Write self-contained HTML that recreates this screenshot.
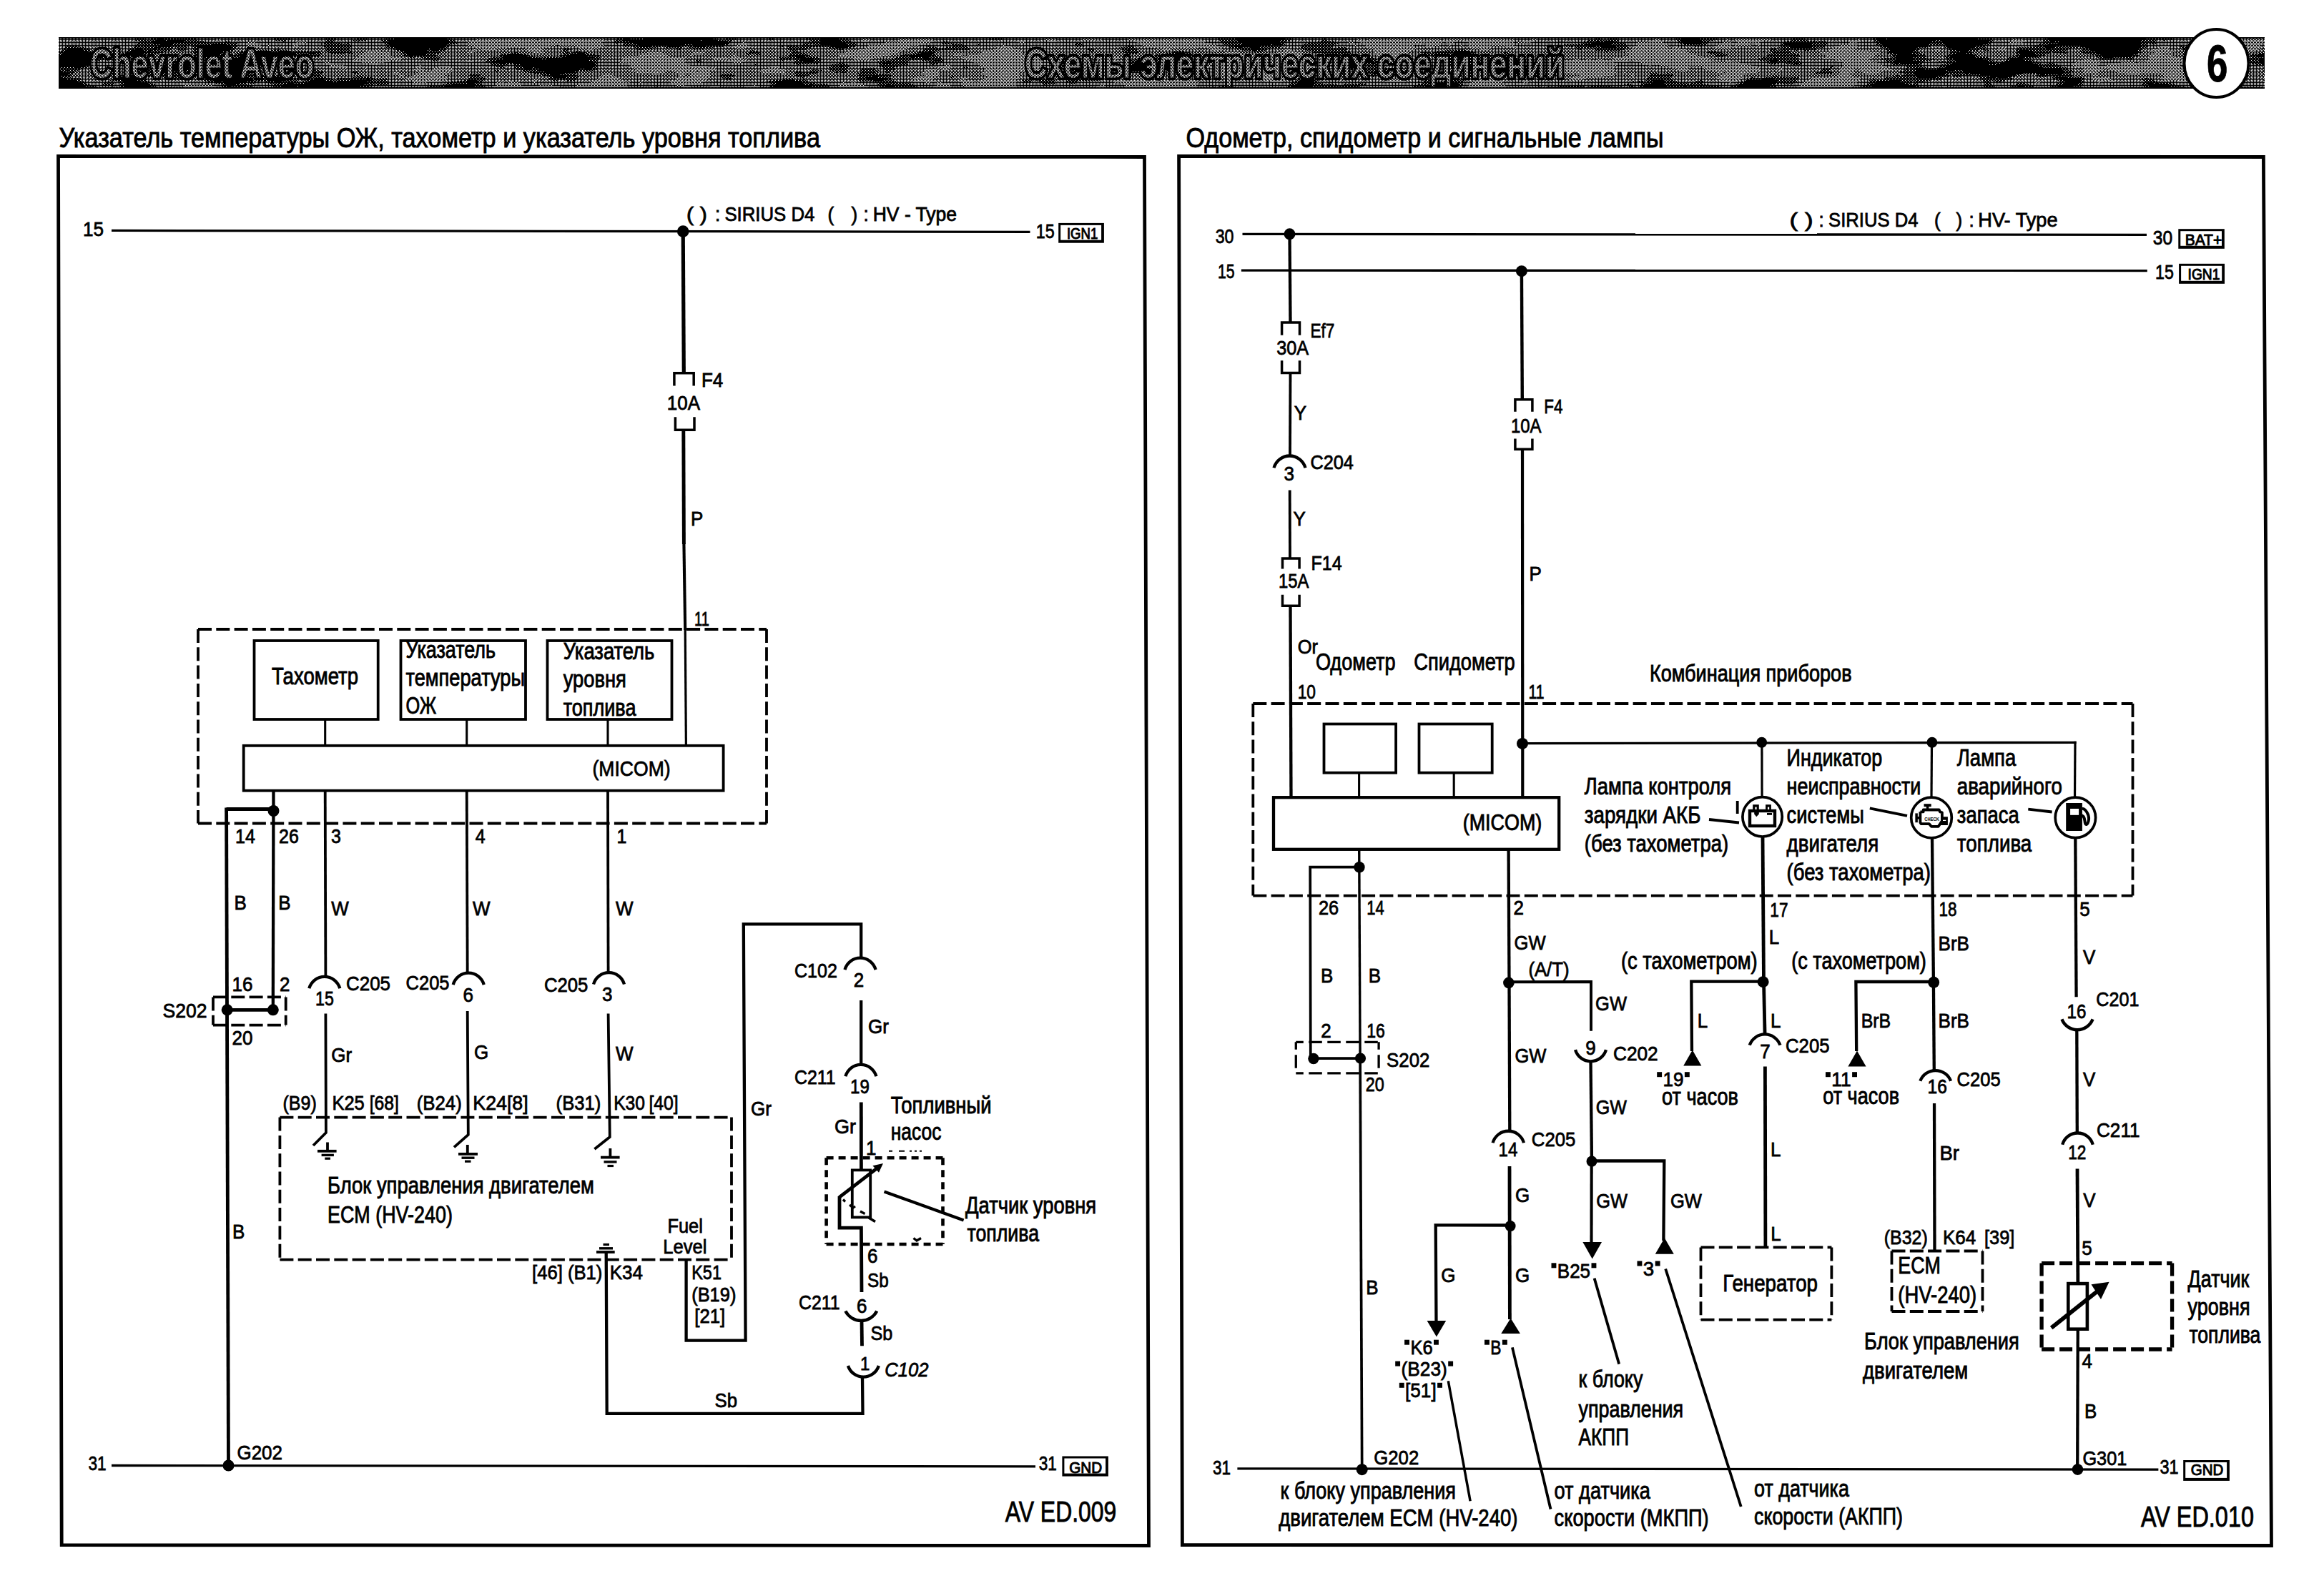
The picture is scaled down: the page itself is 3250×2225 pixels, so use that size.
<!DOCTYPE html>
<html><head><meta charset="utf-8"><title>Chevrolet Aveo - wiring 6</title>
<style>
html,body{margin:0;padding:0;background:#fff;}
body{width:3250px;height:2225px;overflow:hidden;}
svg{display:block;font-family:"Liberation Sans",sans-serif;}
svg text{fill:#000;white-space:pre;}
</style></head><body>
<svg width="3250" height="2225" viewBox="0 0 3250 2225">
<g fill="none" stroke="#000" stroke-linecap="butt">
<defs>
<pattern id="d1" width="4" height="4" patternUnits="userSpaceOnUse"><rect x="0" y="0" width="1" height="1" fill="#fff" stroke="none"/><rect x="2" y="2" width="1" height="1" fill="#fff" stroke="none"/></pattern>
<pattern id="d2" width="4" height="4" patternUnits="userSpaceOnUse"><rect x="0" y="0" width="1" height="1" fill="#fff" stroke="none"/><rect x="2" y="2" width="1" height="1" fill="#fff" stroke="none"/><rect x="2" y="0" width="1" height="1" fill="#fff" stroke="none"/><rect x="0" y="2" width="1" height="1" fill="#fff" stroke="none"/><rect x="1" y="1" width="1" height="1" fill="#fff" stroke="none"/></pattern>
<pattern id="d3" width="4" height="4" patternUnits="userSpaceOnUse"><rect x="0" y="0" width="1" height="1" fill="#fff" stroke="none"/><rect x="2" y="2" width="1" height="1" fill="#fff" stroke="none"/><rect x="2" y="0" width="1" height="1" fill="#fff" stroke="none"/><rect x="0" y="2" width="1" height="1" fill="#fff" stroke="none"/><rect x="1" y="1" width="1" height="1" fill="#fff" stroke="none"/><rect x="3" y="3" width="1" height="1" fill="#fff" stroke="none"/><rect x="3" y="1" width="1" height="1" fill="#fff" stroke="none"/></pattern>
<clipPath id="bandclip"><rect x="82" y="54" width="3085" height="68"/></clipPath>
</defs>
<defs>
<linearGradient id="ramp" x1="0" y1="0" x2="1" y2="0"><stop offset="0" stop-color="#303030"/><stop offset="0.11" stop-color="#3c3c3c"/><stop offset="0.14" stop-color="#808080"/><stop offset="0.80" stop-color="#848484"/><stop offset="0.84" stop-color="#505050"/><stop offset="0.93" stop-color="#505050"/><stop offset="0.95" stop-color="#8c8c8c"/><stop offset="1" stop-color="#8c8c8c"/></linearGradient>
<filter id="nz" x="0" y="0" width="100%" height="100%" color-interpolation-filters="sRGB">
<feTurbulence type="fractalNoise" baseFrequency="0.011 0.028" numOctaves="4" seed="11" result="n"/>
<feColorMatrix in="n" type="matrix" values="2.6 0 0 0 -0.8  2.6 0 0 0 -0.8  2.6 0 0 0 -0.8  0 0 0 0 1" result="ng"/>
<feComposite in="SourceGraphic" in2="ng" operator="arithmetic" k1="0" k2="1" k3="1" k4="-0.5"/>
</filter>
<filter id="t1" color-interpolation-filters="sRGB"><feComponentTransfer><feFuncR type="discrete" tableValues="0 0 1 1 1 1 1 1 1 1 1 1 1 1 1 1 1 1 1 1"/><feFuncG type="discrete" tableValues="0 0 1 1 1 1 1 1 1 1 1 1 1 1 1 1 1 1 1 1"/><feFuncB type="discrete" tableValues="0 0 1 1 1 1 1 1 1 1 1 1 1 1 1 1 1 1 1 1"/></feComponentTransfer></filter>
<filter id="t2" color-interpolation-filters="sRGB"><feComponentTransfer><feFuncR type="discrete" tableValues="0 0 0 0 0 0 1 1 1 1 1 1 1 1 1 1 1 1 1 1"/><feFuncG type="discrete" tableValues="0 0 0 0 0 0 1 1 1 1 1 1 1 1 1 1 1 1 1 1"/><feFuncB type="discrete" tableValues="0 0 0 0 0 0 1 1 1 1 1 1 1 1 1 1 1 1 1 1"/></feComponentTransfer></filter>
<filter id="t3" color-interpolation-filters="sRGB"><feComponentTransfer><feFuncR type="discrete" tableValues="0 0 0 0 0 0 0 0 0 0 0 0 0 0 1 1 1 1 1 1"/><feFuncG type="discrete" tableValues="0 0 0 0 0 0 0 0 0 0 0 0 0 0 1 1 1 1 1 1"/><feFuncB type="discrete" tableValues="0 0 0 0 0 0 0 0 0 0 0 0 0 0 1 1 1 1 1 1"/></feComponentTransfer></filter>
<mask id="m1" maskUnits="userSpaceOnUse" x="82" y="52" width="3085" height="72"><g filter="url(#t1)"><rect x="82" y="52" width="3085" height="72" fill="url(#ramp)" filter="url(#nz)"/></g></mask>
<mask id="m2" maskUnits="userSpaceOnUse" x="82" y="52" width="3085" height="72"><g filter="url(#t2)"><rect x="82" y="52" width="3085" height="72" fill="url(#ramp)" filter="url(#nz)"/></g></mask>
<mask id="m3" maskUnits="userSpaceOnUse" x="82" y="52" width="3085" height="72"><g filter="url(#t3)"><rect x="82" y="52" width="3085" height="72" fill="url(#ramp)" filter="url(#nz)"/></g></mask>
</defs>
<g shape-rendering="crispEdges" stroke="none">
<rect x="82" y="52" width="3085" height="72" fill="#000"/>
<g clip-path="url(#bandclip)">
<rect x="82" y="52" width="3085" height="72" fill="url(#d1)" mask="url(#m1)"/>
<rect x="82" y="52" width="3085" height="72" fill="url(#d2)" mask="url(#m2)"/>
<rect x="82" y="52" width="3085" height="72" fill="url(#d3)" mask="url(#m3)"/>
</g></g>
<g clip-path="url(#bandclip)">
<text x="126.00" y="109.3" font-size="58.1" textLength="312.99" lengthAdjust="spacingAndGlyphs" font-weight="bold" style="fill:#000;stroke:#000;stroke-width:6.5;stroke-linejoin:round">Chevrolet Aveo</text>
<text x="1433.00" y="109.3" font-size="58.1" textLength="755.01" lengthAdjust="spacingAndGlyphs" font-weight="bold" style="fill:#000;stroke:#000;stroke-width:6.5;stroke-linejoin:round">Схемы электрических соединений</text>
<text x="126.00" y="109.3" font-size="58.1" textLength="312.99" lengthAdjust="spacingAndGlyphs" font-weight="bold" style="fill:url(#d3);stroke:#000;stroke-width:1.2">Chevrolet Aveo</text>
<text x="1433.00" y="109.3" font-size="58.1" textLength="755.01" lengthAdjust="spacingAndGlyphs" font-weight="bold" style="fill:url(#d3);stroke:#000;stroke-width:1.2">Схемы электрических соединений</text>
</g>
<ellipse cx="3099.5" cy="88.5" rx="45" ry="47.5" style="fill:#fff;stroke:#000" stroke-width="4"/>
<text x="3086.00" y="113.7" font-size="71.4" textLength="29.42" lengthAdjust="spacingAndGlyphs" font-weight="bold" stroke="#000" stroke-width="0.9">6</text>
<text x="82.50" y="206.1" font-size="38.8" textLength="1064.44" lengthAdjust="spacingAndGlyphs"  stroke="#000" stroke-width="0.9">Указатель температуры ОЖ, тахометр и указатель уровня топлива</text>
<text x="1658.50" y="206.1" font-size="38.8" textLength="667.97" lengthAdjust="spacingAndGlyphs"  stroke="#000" stroke-width="0.9">Одометр, спидометр и сигнальные лампы</text>
<polygon points="81.5,218.5 1600.5,219.5 1606.5,2161.5 86.2,2160.7" style="fill:none;stroke:#000" stroke-width="4.8" stroke-linejoin="miter"/>
<polygon points="1648.6,218.4 3165.4,219.5 3176.5,2161.5 1653.4,2160.5" style="fill:none;stroke:#000" stroke-width="4.8" stroke-linejoin="miter"/>
<text x="116.00" y="329.6" font-size="27.8" textLength="29.02" lengthAdjust="spacingAndGlyphs"  stroke="#000" stroke-width="0.8">15</text>
<line x1="156" y1="322.4" x2="1440.5" y2="324.3" stroke-width="3.3"/>
<circle cx="955.2" cy="323.6" r="8.3" fill="#000" stroke="none"/>
<text x="1448.70" y="333.3" font-size="27.8" textLength="25.92" lengthAdjust="spacingAndGlyphs"  stroke="#000" stroke-width="0.8">15</text>
<rect x="1480.2" y="311.9" width="63.7" height="27.8" fill="#000" stroke="none"/>
<rect x="1483.2" y="314.9" width="56.9" height="20.8" fill="#fff" stroke="none"/>
<text x="1491.90" y="334.3" font-size="21.4" textLength="43.38" lengthAdjust="spacingAndGlyphs" stroke="#000" stroke-width="1">IGN1</text>
<text x="960.10" y="309.2" font-size="27.8" textLength="28.65" lengthAdjust="spacingAndGlyphs"  stroke="#000" stroke-width="0.8">( )</text>
<text x="999.90" y="309.2" font-size="27.8" textLength="7.22" lengthAdjust="spacingAndGlyphs"  stroke="#000" stroke-width="0.8">:</text>
<text x="1013.40" y="309.2" font-size="27.8" textLength="125.94" lengthAdjust="spacingAndGlyphs"  stroke="#000" stroke-width="0.8">SIRIUS D4</text>
<text x="1157.40" y="309.2" font-size="27.8" textLength="8.66" lengthAdjust="spacingAndGlyphs"  stroke="#000" stroke-width="0.8">(</text>
<text x="1190.50" y="309.2" font-size="27.8" textLength="8.66" lengthAdjust="spacingAndGlyphs"  stroke="#000" stroke-width="0.8">)</text>
<text x="1207.50" y="309.2" font-size="27.8" textLength="7.22" lengthAdjust="spacingAndGlyphs"  stroke="#000" stroke-width="0.8">:</text>
<text x="1220.70" y="309.2" font-size="27.8" textLength="117.42" lengthAdjust="spacingAndGlyphs"  stroke="#000" stroke-width="0.8">HV - Type</text>
<line x1="955.2" y1="323.6" x2="956.3" y2="521.6" stroke-width="5.2"/>
<polyline points="942.9,539.6 942.9,521.8 970.2,521.8 970.2,539.6" stroke-width="3.5" />
<polyline points="944.4,583.3 944.4,601.2 971,601.2 971,583.3" stroke-width="3.5" />
<text x="981.00" y="541.1" font-size="27.8" textLength="30.34" lengthAdjust="spacingAndGlyphs"  stroke="#000" stroke-width="0.8">F4</text>
<text x="932.80" y="573.1" font-size="27.8" textLength="46.16" lengthAdjust="spacingAndGlyphs"  stroke="#000" stroke-width="0.8">10A</text>
<line x1="955.8" y1="601.2" x2="956.4" y2="761" stroke-width="4.9"/>
<line x1="956.4" y1="759" x2="958.2" y2="881" stroke-width="4.1"/>
<line x1="958.2" y1="879" x2="959.4" y2="1042.8" stroke-width="3.2"/>
<text x="966.00" y="735.3" font-size="27.8" textLength="17.34" lengthAdjust="spacingAndGlyphs"  stroke="#000" stroke-width="0.8">P</text>
<text x="971.00" y="875.2" font-size="27.8" textLength="20.89" lengthAdjust="spacingAndGlyphs"  stroke="#000" stroke-width="0.8">11</text>
<line x1="277" y1="880" x2="1072" y2="880" stroke-width="3.8" stroke-dasharray="19 6.3" stroke-dashoffset="0"/>
<line x1="1072" y1="880" x2="1072" y2="1151.5" stroke-width="3.8" stroke-dasharray="19 6.3" stroke-dashoffset="0"/>
<line x1="277" y1="1151.5" x2="1072" y2="1151.5" stroke-width="3.8" stroke-dasharray="19 6.3" stroke-dashoffset="0"/>
<line x1="277" y1="880" x2="277" y2="1151.5" stroke-width="3.8" stroke-dasharray="19 6.3" stroke-dashoffset="0"/>
<rect x="355.5" y="896" width="173.2" height="110" stroke-width="3.8" />
<rect x="560.5" y="896" width="174.5" height="110" stroke-width="3.8" />
<rect x="765.5" y="896" width="174" height="110" stroke-width="3.8" />
<rect x="340.7" y="1042.8" width="670.9" height="62.9" stroke-width="3.8" />
<line x1="454.7" y1="1006" x2="454.7" y2="1042.8" stroke-width="3.1"/>
<line x1="652.7" y1="1006" x2="652.7" y2="1042.8" stroke-width="3.1"/>
<line x1="850" y1="1006" x2="850" y2="1042.8" stroke-width="3.1"/>
<text x="380.00" y="956.9" font-size="32.6" textLength="121.03" lengthAdjust="spacingAndGlyphs"  stroke="#000" stroke-width="0.9">Тахометр</text>
<text x="567.50" y="919.9" font-size="32.6" textLength="125.48" lengthAdjust="spacingAndGlyphs"  stroke="#000" stroke-width="0.9">Указатель</text>
<text x="567.50" y="958.7" font-size="32.6" textLength="166.47" lengthAdjust="spacingAndGlyphs"  stroke="#000" stroke-width="0.9">температуры</text>
<text x="567.50" y="997.6" font-size="32.6" textLength="42.53" lengthAdjust="spacingAndGlyphs"  stroke="#000" stroke-width="0.9">ОЖ</text>
<text x="787.70" y="921.7" font-size="32.6" textLength="127.68" lengthAdjust="spacingAndGlyphs"  stroke="#000" stroke-width="0.9">Указатель</text>
<text x="787.70" y="960.6" font-size="32.6" textLength="88.13" lengthAdjust="spacingAndGlyphs"  stroke="#000" stroke-width="0.9">уровня</text>
<text x="787.70" y="1001.3" font-size="32.6" textLength="101.81" lengthAdjust="spacingAndGlyphs"  stroke="#000" stroke-width="0.9">топлива</text>
<text x="828.50" y="1084.6" font-size="30" textLength="109.08" lengthAdjust="spacingAndGlyphs"  stroke="#000" stroke-width="0.8">(MICOM)</text>
<line x1="382.5" y1="1105.7" x2="381.8" y2="1412.3" stroke-width="4.3"/>
<circle cx="382.5" cy="1134" r="8" fill="#000" stroke="none"/>
<line x1="382.5" y1="1131.5" x2="316.6" y2="1131.5" stroke-width="4.8"/>
<line x1="316.6" y1="1129.5" x2="319.5" y2="2049.5" stroke-width="4.8"/>
<text x="329.00" y="1178.6" font-size="26.8" textLength="27.81" lengthAdjust="spacingAndGlyphs"  stroke="#000" stroke-width="0.8">14</text>
<text x="390.00" y="1178.6" font-size="26.8" textLength="27.81" lengthAdjust="spacingAndGlyphs"  stroke="#000" stroke-width="0.8">26</text>
<text x="463.00" y="1178.6" font-size="26.8" textLength="13.90" lengthAdjust="spacingAndGlyphs"  stroke="#000" stroke-width="0.8">3</text>
<text x="664.70" y="1178.6" font-size="26.8" textLength="13.90" lengthAdjust="spacingAndGlyphs"  stroke="#000" stroke-width="0.8">4</text>
<text x="862.60" y="1178.6" font-size="26.8" textLength="13.90" lengthAdjust="spacingAndGlyphs"  stroke="#000" stroke-width="0.8">1</text>
<text x="327.40" y="1272.4" font-size="27.8" textLength="17.34" lengthAdjust="spacingAndGlyphs"  stroke="#000" stroke-width="0.8">B</text>
<text x="389.30" y="1272.4" font-size="27.8" textLength="17.34" lengthAdjust="spacingAndGlyphs"  stroke="#000" stroke-width="0.8">B</text>
<text x="463.30" y="1280.3" font-size="27.8" textLength="24.54" lengthAdjust="spacingAndGlyphs"  stroke="#000" stroke-width="0.8">W</text>
<text x="661.00" y="1280.3" font-size="27.8" textLength="24.54" lengthAdjust="spacingAndGlyphs"  stroke="#000" stroke-width="0.8">W</text>
<text x="861.00" y="1280.3" font-size="27.8" textLength="24.54" lengthAdjust="spacingAndGlyphs"  stroke="#000" stroke-width="0.8">W</text>
<text x="324.60" y="1386" font-size="27.8" textLength="28.92" lengthAdjust="spacingAndGlyphs"  stroke="#000" stroke-width="0.8">16</text>
<text x="391.00" y="1386" font-size="27.8" textLength="14.46" lengthAdjust="spacingAndGlyphs"  stroke="#000" stroke-width="0.8">2</text>
<line x1="298" y1="1394.4" x2="399.7" y2="1394.4" stroke-width="3.8" stroke-dasharray="19 6.3" stroke-dashoffset="0"/>
<line x1="399.7" y1="1394.4" x2="399.7" y2="1433.6" stroke-width="3.8" stroke-dasharray="19 6.3" stroke-dashoffset="0"/>
<line x1="298" y1="1433.6" x2="399.7" y2="1433.6" stroke-width="3.8" stroke-dasharray="19 6.3" stroke-dashoffset="0"/>
<line x1="298" y1="1394.4" x2="298" y2="1433.6" stroke-width="3.8" stroke-dasharray="19 6.3" stroke-dashoffset="0"/>
<circle cx="317.7" cy="1412.3" r="8" fill="#000" stroke="none"/>
<circle cx="381.8" cy="1412.3" r="8" fill="#000" stroke="none"/>
<line x1="317.7" y1="1412.3" x2="381.8" y2="1412.3" stroke-width="4.8"/>
<text x="227.50" y="1423.2" font-size="27.8" textLength="62.02" lengthAdjust="spacingAndGlyphs"  stroke="#000" stroke-width="0.8">S202</text>
<text x="324.60" y="1461.1" font-size="27.8" textLength="28.92" lengthAdjust="spacingAndGlyphs"  stroke="#000" stroke-width="0.8">20</text>
<text x="325.00" y="1731.5" font-size="27.8" textLength="17.34" lengthAdjust="spacingAndGlyphs"  stroke="#000" stroke-width="0.8">B</text>
<line x1="454.7" y1="1105.7" x2="455.4" y2="1365.8" stroke-width="3.8"/>
<path d="M432.3 1382.3 A22.3 22.3 0 0 1 475.3 1382.3" stroke-width="4.3" />
<text x="441.00" y="1405.6" font-size="27.8" textLength="25.82" lengthAdjust="spacingAndGlyphs"  stroke="#000" stroke-width="0.8">15</text>
<text x="484.00" y="1385.3" font-size="27.8" textLength="61.95" lengthAdjust="spacingAndGlyphs"  stroke="#000" stroke-width="0.8">C205</text>
<polyline points="455.4,1417.4 455.9,1584 438,1602" stroke-width="3.8" />
<line x1="458" y1="1597.5" x2="458" y2="1609.8" stroke-width="3.8"/>
<line x1="444" y1="1609.8" x2="470.6" y2="1609.8" stroke-width="3.8"/>
<line x1="449.6" y1="1615.4" x2="466.9" y2="1615.4" stroke-width="3.4"/>
<line x1="454.3" y1="1620.2" x2="462" y2="1620.2" stroke-width="3.2"/>
<text x="463.30" y="1485.2" font-size="27.8" textLength="28.88" lengthAdjust="spacingAndGlyphs"  stroke="#000" stroke-width="0.8">Gr</text>
<line x1="652.7" y1="1105.7" x2="653.7" y2="1360.6" stroke-width="3.8"/>
<path d="M633.7 1377.1 A22.3 22.3 0 0 1 676.7 1377.1" stroke-width="4.3" />
<text x="647.50" y="1400.6" font-size="27.8" textLength="14.46" lengthAdjust="spacingAndGlyphs"  stroke="#000" stroke-width="0.8">6</text>
<text x="567.60" y="1383.6" font-size="27.8" textLength="60.96" lengthAdjust="spacingAndGlyphs"  stroke="#000" stroke-width="0.8">C205</text>
<polyline points="653.7,1414 654.8,1587 635,1604.4" stroke-width="3.8" />
<line x1="653.8" y1="1601" x2="653.8" y2="1613.9" stroke-width="3.8"/>
<line x1="641" y1="1613.9" x2="668" y2="1613.9" stroke-width="3.8"/>
<line x1="645.5" y1="1619.2" x2="663.5" y2="1619.2" stroke-width="3.4"/>
<line x1="650" y1="1624.2" x2="658.5" y2="1624.2" stroke-width="3.2"/>
<text x="663.00" y="1481" font-size="27.8" textLength="20.22" lengthAdjust="spacingAndGlyphs"  stroke="#000" stroke-width="0.8">G</text>
<line x1="850" y1="1105.7" x2="850.6" y2="1360" stroke-width="3.8"/>
<path d="M830 1376.5 A22.3 22.3 0 0 1 873 1376.5" stroke-width="4.3" />
<text x="842.00" y="1399.6" font-size="27.8" textLength="14.46" lengthAdjust="spacingAndGlyphs"  stroke="#000" stroke-width="0.8">3</text>
<text x="761.00" y="1387.1" font-size="27.8" textLength="61.36" lengthAdjust="spacingAndGlyphs"  stroke="#000" stroke-width="0.8">C205</text>
<polyline points="850.6,1417.4 852.8,1590 831.4,1607" stroke-width="3.8" />
<line x1="853.4" y1="1606" x2="853.4" y2="1618.6" stroke-width="3.8"/>
<line x1="840" y1="1618.6" x2="866.6" y2="1618.6" stroke-width="3.8"/>
<line x1="844.5" y1="1624.9" x2="862.5" y2="1624.9" stroke-width="3.4"/>
<line x1="849.5" y1="1630.5" x2="858" y2="1630.5" stroke-width="3.2"/>
<text x="861.00" y="1483.4" font-size="27.8" textLength="24.54" lengthAdjust="spacingAndGlyphs"  stroke="#000" stroke-width="0.8">W</text>
<text x="395.50" y="1552.3" font-size="27.8" textLength="47.22" lengthAdjust="spacingAndGlyphs"  stroke="#000" stroke-width="0.8">(B9)</text>
<text x="464.40" y="1552.3" font-size="27.8" textLength="45.36" lengthAdjust="spacingAndGlyphs"  stroke="#000" stroke-width="0.8">K25</text>
<text x="516.70" y="1552.3" font-size="27.8" textLength="41.27" lengthAdjust="spacingAndGlyphs"  stroke="#000" stroke-width="0.8">[68]</text>
<text x="582.80" y="1552.3" font-size="27.8" textLength="62.98" lengthAdjust="spacingAndGlyphs"  stroke="#000" stroke-width="0.8">(B24)</text>
<text x="661.30" y="1552.3" font-size="27.8" textLength="77.37" lengthAdjust="spacingAndGlyphs"  stroke="#000" stroke-width="0.8">K24[8]</text>
<text x="777.60" y="1552.3" font-size="27.8" textLength="62.68" lengthAdjust="spacingAndGlyphs"  stroke="#000" stroke-width="0.8">(B31)</text>
<text x="858.20" y="1552.3" font-size="27.8" textLength="43.76" lengthAdjust="spacingAndGlyphs"  stroke="#000" stroke-width="0.8">K30</text>
<text x="907.40" y="1552.3" font-size="27.8" textLength="41.27" lengthAdjust="spacingAndGlyphs"  stroke="#000" stroke-width="0.8">[40]</text>
<line x1="391.4" y1="1562.6" x2="1023" y2="1562.6" stroke-width="3.8" stroke-dasharray="19 6.3" stroke-dashoffset="0"/>
<line x1="1023" y1="1562.6" x2="1023" y2="1761.6" stroke-width="3.8" stroke-dasharray="19 6.3" stroke-dashoffset="0"/>
<line x1="391.4" y1="1761.6" x2="1023" y2="1761.6" stroke-width="3.8" stroke-dasharray="19 6.3" stroke-dashoffset="0"/>
<line x1="391.4" y1="1562.6" x2="391.4" y2="1761.6" stroke-width="3.8" stroke-dasharray="19 6.3" stroke-dashoffset="0"/>
<text x="458.00" y="1669.1" font-size="32.6" textLength="372.79" lengthAdjust="spacingAndGlyphs"  stroke="#000" stroke-width="0.9">Блок управления двигателем</text>
<text x="458.00" y="1710" font-size="32.6" textLength="174.84" lengthAdjust="spacingAndGlyphs"  stroke="#000" stroke-width="0.9">ECM (HV-240)</text>
<text x="933.50" y="1724.4" font-size="27.8" textLength="49.38" lengthAdjust="spacingAndGlyphs"  stroke="#000" stroke-width="0.8">Fuel</text>
<text x="927.30" y="1752.6" font-size="27.8" textLength="61.16" lengthAdjust="spacingAndGlyphs"  stroke="#000" stroke-width="0.8">Level</text>
<line x1="843.5" y1="1740.5" x2="852" y2="1740.5" stroke-width="3.2"/>
<line x1="838" y1="1745.8" x2="857" y2="1745.8" stroke-width="3.4"/>
<line x1="834" y1="1751" x2="859.7" y2="1751" stroke-width="3.8"/>
<polyline points="847.7,1751 848.7,1976.8 1206.5,1976.8 1206,1925.7" stroke-width="4.3" />
<text x="744.00" y="1788.9" font-size="27.8" textLength="98.41" lengthAdjust="spacingAndGlyphs"  stroke="#000" stroke-width="0.8">[46] (B1)</text>
<text x="852.80" y="1788.9" font-size="27.8" textLength="46.16" lengthAdjust="spacingAndGlyphs"  stroke="#000" stroke-width="0.8">K34</text>
<polyline points="959.6,1761.6 959.6,1874.7 1042.6,1874.7 1039.8,1292.4 1204.2,1292.4 1204.2,1339.6" stroke-width="4.3" />
<text x="967.20" y="1788.9" font-size="27.8" textLength="41.76" lengthAdjust="spacingAndGlyphs"  stroke="#000" stroke-width="0.8">K51</text>
<text x="967.20" y="1820.3" font-size="27.8" textLength="62.18" lengthAdjust="spacingAndGlyphs"  stroke="#000" stroke-width="0.8">(B19)</text>
<text x="971.30" y="1850.2" font-size="27.8" textLength="42.97" lengthAdjust="spacingAndGlyphs"  stroke="#000" stroke-width="0.8">[21]</text>
<text x="999.50" y="1968" font-size="27.8" textLength="31.50" lengthAdjust="spacingAndGlyphs"  stroke="#000" stroke-width="0.8">Sb</text>
<text x="1050.00" y="1560.1" font-size="27.8" textLength="28.88" lengthAdjust="spacingAndGlyphs"  stroke="#000" stroke-width="0.8">Gr</text>
<path d="M1181.5 1356.1 A22.3 22.3 0 0 1 1224.5 1356.1" stroke-width="4.3" />
<text x="1193.80" y="1380.1" font-size="27.8" textLength="14.46" lengthAdjust="spacingAndGlyphs"  stroke="#000" stroke-width="0.8">2</text>
<text x="1111.00" y="1366.6" font-size="27.8" textLength="59.86" lengthAdjust="spacingAndGlyphs"  stroke="#000" stroke-width="0.8">C102</text>
<line x1="1204.2" y1="1399" x2="1204.2" y2="1488.8" stroke-width="4.3"/>
<text x="1214.00" y="1444.6" font-size="27.8" textLength="28.88" lengthAdjust="spacingAndGlyphs"  stroke="#000" stroke-width="0.8">Gr</text>
<path d="M1182.4 1505.3 A22.3 22.3 0 0 1 1225.4 1505.3" stroke-width="4.3" />
<text x="1189.00" y="1528.6" font-size="27.8" textLength="26.82" lengthAdjust="spacingAndGlyphs"  stroke="#000" stroke-width="0.8">19</text>
<text x="1111.00" y="1516.2" font-size="27.8" textLength="57.72" lengthAdjust="spacingAndGlyphs"  stroke="#000" stroke-width="0.8">C211</text>
<line x1="1204.3" y1="1541.6" x2="1204.4" y2="1636.2" stroke-width="4.8"/>
<text x="1245.70" y="1556.7" font-size="32.6" textLength="140.77" lengthAdjust="spacingAndGlyphs"  stroke="#000" stroke-width="0.9">Топливный</text>
<text x="1245.70" y="1594.3" font-size="32.6" textLength="70.72" lengthAdjust="spacingAndGlyphs"  stroke="#000" stroke-width="0.9">насос</text>
<text x="1167.00" y="1585.3" font-size="27.8" textLength="29.98" lengthAdjust="spacingAndGlyphs"  stroke="#000" stroke-width="0.8">Gr</text>
<text x="1211.00" y="1615.1" font-size="27.8" textLength="14.46" lengthAdjust="spacingAndGlyphs"  stroke="#000" stroke-width="0.8">1</text>
<line x1="1155.6" y1="1619.3" x2="1318.5" y2="1619.3" stroke-width="4.6" stroke-dasharray="10 7" stroke-dashoffset="0"/>
<line x1="1318.5" y1="1619.3" x2="1318.5" y2="1740" stroke-width="4.6" stroke-dasharray="10 7" stroke-dashoffset="0"/>
<line x1="1155.6" y1="1740" x2="1318.5" y2="1740" stroke-width="4.6" stroke-dasharray="10 7" stroke-dashoffset="0"/>
<line x1="1155.6" y1="1619.3" x2="1155.6" y2="1740" stroke-width="4.6" stroke-dasharray="10 7" stroke-dashoffset="0"/>
<rect x="1191.8" y="1636.4" width="25.4" height="66" stroke-width="3.8" />
<line x1="1173.7" y1="1674.4" x2="1228" y2="1632.6" stroke-width="4.8"/>
<polygon points="1235,1627.1 1220.4,1630.2 1229,1639.7" fill="#000" stroke="none" />
<polyline points="1174,1673 1174,1717.1 1204.4,1717.1 1205,1806.9" stroke-width="4.8" />
<line x1="1236.5" y1="1666.4" x2="1347.6" y2="1706.6" stroke-width="4.3"/>
<line x1="1179" y1="1677.5" x2="1182" y2="1680.5" stroke-width="3.3"/>
<polyline points="1188,1685 1193,1689 1196,1687" stroke-width="3.3" />
<line x1="1203" y1="1694" x2="1209.5" y2="1697.5" stroke-width="3.3"/>
<line x1="1215" y1="1703" x2="1224" y2="1708.5" stroke-width="3.8"/>
<polyline points="1277.5,1731.5 1282,1735 1288,1731.5" stroke-width="3.3" />
<line x1="1243" y1="1609.8" x2="1307" y2="1609.8" stroke-width="2" stroke-dasharray="5 9 8 7 3 4 3 4 3 30"/>
<text x="1350.00" y="1696.6" font-size="32.6" textLength="183.19" lengthAdjust="spacingAndGlyphs"  stroke="#000" stroke-width="0.9">Датчик уровня</text>
<text x="1352.50" y="1735.8" font-size="32.6" textLength="100.51" lengthAdjust="spacingAndGlyphs"  stroke="#000" stroke-width="0.9">топлива</text>
<text x="1213.00" y="1765.6" font-size="27.8" textLength="14.46" lengthAdjust="spacingAndGlyphs"  stroke="#000" stroke-width="0.8">6</text>
<text x="1213.00" y="1799.6" font-size="27.8" textLength="29.70" lengthAdjust="spacingAndGlyphs"  stroke="#000" stroke-width="0.8">Sb</text>
<path d="M1182.3 1833.6 A24.8 24.8 0 0 0 1226.3 1833.6" stroke-width="4.3" />
<text x="1198.00" y="1835.6" font-size="27.8" textLength="14.46" lengthAdjust="spacingAndGlyphs"  stroke="#000" stroke-width="0.8">6</text>
<text x="1117.00" y="1831.1" font-size="27.8" textLength="57.52" lengthAdjust="spacingAndGlyphs"  stroke="#000" stroke-width="0.8">C211</text>
<line x1="1205" y1="1847" x2="1205.5" y2="1882.3" stroke-width="4.8"/>
<text x="1217.50" y="1874.4" font-size="27.8" textLength="30.80" lengthAdjust="spacingAndGlyphs"  stroke="#000" stroke-width="0.8">Sb</text>
<path d="M1185.9 1910 A22.6 22.6 0 0 0 1228.9 1910" stroke-width="4.3" />
<text x="1203.00" y="1915.9" font-size="25.7" textLength="13.35" lengthAdjust="spacingAndGlyphs"  stroke="#000" stroke-width="0.8">1</text>
<text x="1237.30" y="1925.4" font-size="27.8" textLength="61.26" lengthAdjust="spacingAndGlyphs" font-style="italic" stroke="#000" stroke-width="0.8">C102</text>
<text x="123.40" y="2056.2" font-size="27.8" textLength="25.22" lengthAdjust="spacingAndGlyphs"  stroke="#000" stroke-width="0.8">31</text>
<line x1="156" y1="2049.5" x2="1448" y2="2050.8" stroke-width="3.3"/>
<circle cx="319.5" cy="2049.5" r="8" fill="#000" stroke="none"/>
<text x="331.50" y="2041.1" font-size="27.8" textLength="63.40" lengthAdjust="spacingAndGlyphs"  stroke="#000" stroke-width="0.8">G202</text>
<text x="1452.70" y="2055.6" font-size="27.8" textLength="25.12" lengthAdjust="spacingAndGlyphs"  stroke="#000" stroke-width="0.8">31</text>
<rect x="1485.4" y="2036.5" width="64.5" height="28.1" fill="#000" stroke="none"/>
<rect x="1488.4" y="2039.5" width="57.7" height="21.1" fill="#fff" stroke="none"/>
<text x="1495.20" y="2059.8" font-size="21.4" textLength="45.95" lengthAdjust="spacingAndGlyphs" stroke="#000" stroke-width="1">GND</text>
<text x="1405.80" y="2128.1" font-size="39.8" textLength="155.46" lengthAdjust="spacingAndGlyphs"  stroke="#000" stroke-width="0.9">AV ED.009</text>
<text x="1699.70" y="339.6" font-size="27.8" textLength="25.82" lengthAdjust="spacingAndGlyphs"  stroke="#000" stroke-width="0.8">30</text>
<line x1="1737.5" y1="327.3" x2="3002" y2="328.4" stroke-width="3.3"/>
<circle cx="1803.5" cy="327.3" r="8" fill="#000" stroke="none"/>
<text x="3010.80" y="341.8" font-size="27.8" textLength="27.32" lengthAdjust="spacingAndGlyphs"  stroke="#000" stroke-width="0.8">30</text>
<rect x="3046.3" y="320.2" width="64.5" height="27.6" fill="#000" stroke="none"/>
<rect x="3049.3" y="323.2" width="57.7" height="20.6" fill="#fff" stroke="none"/>
<text x="3055.70" y="342.9" font-size="21.4" textLength="51.49" lengthAdjust="spacingAndGlyphs" stroke="#000" stroke-width="1">BAT+</text>
<text x="1702.90" y="389.2" font-size="27.8" textLength="23.62" lengthAdjust="spacingAndGlyphs"  stroke="#000" stroke-width="0.8">15</text>
<line x1="1735.9" y1="378.2" x2="3002.8" y2="378.5" stroke-width="3.3"/>
<circle cx="2127.9" cy="379.2" r="8" fill="#000" stroke="none"/>
<text x="3014.00" y="389.6" font-size="27.8" textLength="25.82" lengthAdjust="spacingAndGlyphs"  stroke="#000" stroke-width="0.8">15</text>
<rect x="3047.1" y="368.8" width="63.9" height="28" fill="#000" stroke="none"/>
<rect x="3050.1" y="371.8" width="57.1" height="21" fill="#fff" stroke="none"/>
<text x="3059.60" y="390.8" font-size="21.4" textLength="44.78" lengthAdjust="spacingAndGlyphs" stroke="#000" stroke-width="1">IGN1</text>
<text x="2502.60" y="317.4" font-size="27.8" textLength="32.95" lengthAdjust="spacingAndGlyphs"  stroke="#000" stroke-width="0.8">( )</text>
<text x="2543.60" y="317.4" font-size="27.8" textLength="7.22" lengthAdjust="spacingAndGlyphs"  stroke="#000" stroke-width="0.8">:</text>
<text x="2557.10" y="317.4" font-size="27.8" textLength="125.34" lengthAdjust="spacingAndGlyphs"  stroke="#000" stroke-width="0.8">SIRIUS D4</text>
<text x="2704.90" y="317.4" font-size="27.8" textLength="8.66" lengthAdjust="spacingAndGlyphs"  stroke="#000" stroke-width="0.8">(</text>
<text x="2735.60" y="317.4" font-size="27.8" textLength="8.66" lengthAdjust="spacingAndGlyphs"  stroke="#000" stroke-width="0.8">)</text>
<text x="2753.40" y="317.4" font-size="27.8" textLength="7.22" lengthAdjust="spacingAndGlyphs"  stroke="#000" stroke-width="0.8">:</text>
<text x="2766.30" y="317.4" font-size="27.8" textLength="111.26" lengthAdjust="spacingAndGlyphs"  stroke="#000" stroke-width="0.8">HV- Type</text>
<line x1="1803.5" y1="327.3" x2="1804.5" y2="450" stroke-width="4.3"/>
<polyline points="1792.6,468.8 1792.6,451 1817.5,451 1817.5,468.8" stroke-width="3.5" />
<polyline points="1792.6,504.3 1792.6,521.4 1817.5,521.4 1817.5,504.3" stroke-width="3.5" />
<text x="1832.40" y="471.6" font-size="27.8" textLength="33.92" lengthAdjust="spacingAndGlyphs"  stroke="#000" stroke-width="0.8">Ef7</text>
<text x="1785.20" y="496.1" font-size="27.8" textLength="44.96" lengthAdjust="spacingAndGlyphs"  stroke="#000" stroke-width="0.8">30A</text>
<line x1="1804.5" y1="522.2" x2="1804" y2="637.6" stroke-width="3.8"/>
<text x="1809.80" y="587.3" font-size="27.8" textLength="17.34" lengthAdjust="spacingAndGlyphs"  stroke="#000" stroke-width="0.8">Y</text>
<path d="M1781.5 654.3 A22.8 22.8 0 0 1 1825.5 654.3" stroke-width="4.3" />
<text x="1795.60" y="672.2" font-size="27.8" textLength="14.46" lengthAdjust="spacingAndGlyphs"  stroke="#000" stroke-width="0.8">3</text>
<text x="1832.40" y="656.4" font-size="27.8" textLength="60.56" lengthAdjust="spacingAndGlyphs"  stroke="#000" stroke-width="0.8">C204</text>
<line x1="1803.7" y1="685.6" x2="1804" y2="779.9" stroke-width="3.8"/>
<text x="1808.50" y="734.9" font-size="27.8" textLength="17.34" lengthAdjust="spacingAndGlyphs"  stroke="#000" stroke-width="0.8">Y</text>
<polyline points="1793.5,795.6 1793.5,780.9 1817.1,780.9 1817.1,795.6" stroke-width="3.5" />
<polyline points="1793.5,831.8 1793.5,847.2 1817.1,847.2 1817.1,831.8" stroke-width="3.5" />
<text x="1833.60" y="797.2" font-size="27.8" textLength="43.10" lengthAdjust="spacingAndGlyphs"  stroke="#000" stroke-width="0.8">F14</text>
<text x="1788.00" y="822.3" font-size="27.8" textLength="42.46" lengthAdjust="spacingAndGlyphs"  stroke="#000" stroke-width="0.8">15A</text>
<line x1="1804.5" y1="848" x2="1805.5" y2="1115" stroke-width="4.3"/>
<text x="1814.70" y="913.5" font-size="27.8" textLength="28.28" lengthAdjust="spacingAndGlyphs"  stroke="#000" stroke-width="0.8">Or</text>
<text x="1839.90" y="937.3" font-size="32.6" textLength="111.64" lengthAdjust="spacingAndGlyphs"  stroke="#000" stroke-width="0.9">Одометр</text>
<text x="1977.30" y="937.3" font-size="32.6" textLength="141.37" lengthAdjust="spacingAndGlyphs"  stroke="#000" stroke-width="0.9">Спидометр</text>
<text x="1814.70" y="977" font-size="27.8" textLength="25.32" lengthAdjust="spacingAndGlyphs"  stroke="#000" stroke-width="0.8">10</text>
<text x="2137.60" y="977" font-size="27.8" textLength="21.99" lengthAdjust="spacingAndGlyphs"  stroke="#000" stroke-width="0.8">11</text>
<line x1="2127.9" y1="379.2" x2="2128.8" y2="557.7" stroke-width="4.4"/>
<polyline points="2118.9,575.7 2118.9,558.7 2142.9,558.7 2142.9,575.7" stroke-width="3.5" />
<polyline points="2118.9,613.4 2118.9,628.2 2142.9,628.2 2142.9,613.4" stroke-width="3.5" />
<text x="2159.30" y="577.8" font-size="27.8" textLength="26.13" lengthAdjust="spacingAndGlyphs"  stroke="#000" stroke-width="0.8">F4</text>
<text x="2113.00" y="604.6" font-size="27.8" textLength="42.56" lengthAdjust="spacingAndGlyphs"  stroke="#000" stroke-width="0.8">10A</text>
<line x1="2129" y1="629" x2="2129.3" y2="1115" stroke-width="4.2"/>
<text x="2138.50" y="811.9" font-size="27.8" textLength="17.34" lengthAdjust="spacingAndGlyphs"  stroke="#000" stroke-width="0.8">P</text>
<line x1="1752.3" y1="984" x2="2982.5" y2="984" stroke-width="3.8" stroke-dasharray="19 6.3" stroke-dashoffset="0"/>
<line x1="2982.5" y1="984" x2="2982.5" y2="1252.6" stroke-width="3.8" stroke-dasharray="19 6.3" stroke-dashoffset="0"/>
<line x1="1752.3" y1="1252.6" x2="2982.5" y2="1252.6" stroke-width="3.8" stroke-dasharray="19 6.3" stroke-dashoffset="0"/>
<line x1="1752.3" y1="984" x2="1752.3" y2="1252.6" stroke-width="3.8" stroke-dasharray="19 6.3" stroke-dashoffset="0"/>
<rect x="1851.5" y="1012.5" width="100.6" height="68.2" stroke-width="3.8" />
<rect x="1984.5" y="1012.5" width="102.2" height="68.2" stroke-width="3.8" />
<line x1="1900.6" y1="1080.7" x2="1900.6" y2="1115" stroke-width="3.1"/>
<line x1="2033.2" y1="1080.7" x2="2033.2" y2="1115" stroke-width="3.1"/>
<rect x="1781" y="1115.2" width="399.2" height="72.6" stroke-width="4.3" />
<text x="2045.70" y="1161.3" font-size="30.6" textLength="110.60" lengthAdjust="spacingAndGlyphs"  stroke="#000" stroke-width="0.9">(MICOM)</text>
<text x="2306.90" y="952.6" font-size="32.6" textLength="282.69" lengthAdjust="spacingAndGlyphs"  stroke="#000" stroke-width="0.9">Комбинация приборов</text>
<circle cx="2129" cy="1039.9" r="8" fill="#000" stroke="none"/>
<line x1="2129" y1="1039.6" x2="2903.6" y2="1038.3" stroke-width="3.3"/>
<circle cx="2463.7" cy="1038.3" r="7.5" fill="#000" stroke="none"/>
<circle cx="2701.9" cy="1038.3" r="7.5" fill="#000" stroke="none"/>
<line x1="2463.9" y1="1038.3" x2="2464.1" y2="1115" stroke-width="3.2"/>
<circle cx="2464.6" cy="1142.3" r="27.7" stroke-width="3.7"/>
<rect x="2447" y="1134" width="35" height="21" stroke-width="4.4" />
<rect x="2451.2" y="1125.2" width="8.6" height="8" style="fill:#000;stroke:none"/>
<rect x="2469.1" y="1125.2" width="7.8" height="8" style="fill:#000;stroke:none"/>
<rect x="2454.4" y="1128.6" width="2.2" height="3.4" style="fill:#fff;stroke:none"/>
<rect x="2472" y="1128.6" width="2.2" height="3.4" style="fill:#fff;stroke:none"/>
<polygon points="2453.2,1134 2459.8,1134 2459.8,1138.5 2456.3,1142.2 2453.2,1138.5" fill="#000" stroke="none" />
<rect x="2471" y="1137" width="7" height="2.8" style="fill:#000;stroke:none"/>
<text x="2215.80" y="1111.3" font-size="32.6" textLength="205.19" lengthAdjust="spacingAndGlyphs"  stroke="#000" stroke-width="0.9">Лампа контроля</text>
<text x="2215.80" y="1151.3" font-size="32.6" textLength="162.66" lengthAdjust="spacingAndGlyphs"  stroke="#000" stroke-width="0.9">зарядки АКБ</text>
<text x="2215.80" y="1190.8" font-size="32.6" textLength="201.36" lengthAdjust="spacingAndGlyphs"  stroke="#000" stroke-width="0.9">(без тахометра)</text>
<line x1="2390" y1="1146" x2="2432" y2="1150.5" stroke-width="3.8"/>
<line x1="2429.7" y1="1120" x2="2429.7" y2="1138" stroke-width="3.8"/>
<line x1="2701.5" y1="1038.3" x2="2701" y2="1115" stroke-width="3.2"/>
<circle cx="2701" cy="1143.5" r="28.3" stroke-width="3.7"/>
<polyline points="2685.4,1135.3 2689.7,1135.3 2689.7,1132.5 2711.6,1132.5 2713.2,1135.5 2715.9,1136.3 2715.9,1148.1 2712.7,1152.9 2710.6,1155.8 2700.9,1155.8 2697.7,1152.1 2686.5,1152.1 2685.4,1150.2 2685.4,1135.3" stroke-width="3.8" stroke-linejoin="round"/>
<line x1="2690.5" y1="1126.2" x2="2700.7" y2="1126.2" stroke-width="4"/>
<line x1="2695.6" y1="1126.2" x2="2695.6" y2="1132.3" stroke-width="3.5"/>
<line x1="2680.1" y1="1137.4" x2="2680.1" y2="1150.2" stroke-width="3.5"/>
<line x1="2680.1" y1="1143.8" x2="2685.4" y2="1143.8" stroke-width="3.5"/>
<polygon points="2716.4,1142.2 2723.9,1142.2 2723.9,1154 2713.8,1154 2716.4,1149.7" fill="#000" stroke="none" />
<rect x="2717" y="1146.7" width="4.3" height="1.3" style="fill:#fff;stroke:none"/>
<text x="2691.32" y="1148.3" font-size="8" textLength="20.54" lengthAdjust="spacingAndGlyphs" font-weight="bold" style="stroke:none">CHECK</text>
<text x="2498.60" y="1070.7" font-size="32.6" textLength="133.61" lengthAdjust="spacingAndGlyphs"  stroke="#000" stroke-width="0.9">Индикатор</text>
<text x="2498.60" y="1111.3" font-size="32.6" textLength="187.77" lengthAdjust="spacingAndGlyphs"  stroke="#000" stroke-width="0.9">неисправности</text>
<text x="2498.60" y="1151.3" font-size="32.6" textLength="108.37" lengthAdjust="spacingAndGlyphs"  stroke="#000" stroke-width="0.9">системы</text>
<text x="2498.60" y="1190.8" font-size="32.6" textLength="128.64" lengthAdjust="spacingAndGlyphs"  stroke="#000" stroke-width="0.9">двигателя</text>
<text x="2498.60" y="1231.3" font-size="32.6" textLength="201.36" lengthAdjust="spacingAndGlyphs"  stroke="#000" stroke-width="0.9">(без тахометра)</text>
<line x1="2614.8" y1="1130.4" x2="2667" y2="1140.9" stroke-width="3.8"/>
<line x1="2902" y1="1036.8" x2="2901.5" y2="1115" stroke-width="3.2"/>
<circle cx="2902.4" cy="1143.4" r="28.2" stroke-width="3.7"/>
<rect x="2889.2" y="1123" width="22.7" height="39" style="fill:#000;stroke:none"/>
<rect x="2895.1" y="1131" width="12" height="8.8" style="fill:#fff;stroke:none"/>
<path d="M2911.9 1131 C2916.4 1130.4 2921.5 1139.5 2921.1 1145.4 C2920.7 1150.7 2918.6 1154 2916.7 1152.6 C2914.8 1151.3 2916.4 1145.9 2913.8 1142.2 L2911.1 1140.1" stroke-width="4" />
<text x="2736.80" y="1070.7" font-size="32.6" textLength="82.42" lengthAdjust="spacingAndGlyphs"  stroke="#000" stroke-width="0.9">Лампа</text>
<text x="2736.80" y="1111.3" font-size="32.6" textLength="147.11" lengthAdjust="spacingAndGlyphs"  stroke="#000" stroke-width="0.9">аварийного</text>
<text x="2736.80" y="1151.3" font-size="32.6" textLength="87.09" lengthAdjust="spacingAndGlyphs"  stroke="#000" stroke-width="0.9">запаса</text>
<text x="2736.80" y="1190.8" font-size="32.6" textLength="104.51" lengthAdjust="spacingAndGlyphs"  stroke="#000" stroke-width="0.9">топлива</text>
<line x1="2836.3" y1="1131.6" x2="2869.6" y2="1135.5" stroke-width="3.8"/>
<line x1="1900.7" y1="1187.8" x2="1902.1" y2="1480" stroke-width="3.4"/>
<line x1="1902.1" y1="1480" x2="1904.7" y2="2055.2" stroke-width="3.7"/>
<circle cx="1901" cy="1212.8" r="7.7" fill="#000" stroke="none"/>
<polyline points="1901.1,1212.6 1832.2,1212.6 1832.8,1481.5" stroke-width="3.7" />
<text x="1844.00" y="1279.2" font-size="27.8" textLength="28.22" lengthAdjust="spacingAndGlyphs"  stroke="#000" stroke-width="0.8">26</text>
<text x="1911.20" y="1279.2" font-size="27.8" textLength="24.52" lengthAdjust="spacingAndGlyphs"  stroke="#000" stroke-width="0.8">14</text>
<text x="1847.00" y="1373.5" font-size="27.8" textLength="17.34" lengthAdjust="spacingAndGlyphs"  stroke="#000" stroke-width="0.8">B</text>
<text x="1913.70" y="1373.5" font-size="27.8" textLength="17.34" lengthAdjust="spacingAndGlyphs"  stroke="#000" stroke-width="0.8">B</text>
<text x="1847.30" y="1450.7" font-size="27.8" textLength="14.46" lengthAdjust="spacingAndGlyphs"  stroke="#000" stroke-width="0.8">2</text>
<text x="1911.20" y="1450.7" font-size="27.8" textLength="25.62" lengthAdjust="spacingAndGlyphs"  stroke="#000" stroke-width="0.8">16</text>
<line x1="1812.3" y1="1457.3" x2="1928.1" y2="1457.3" stroke-width="3.3" stroke-dasharray="18.5 7.5" stroke-dashoffset="8"/>
<line x1="1928.1" y1="1457.3" x2="1928.1" y2="1500.9" stroke-width="3.3" stroke-dasharray="18.5 7.5" stroke-dashoffset="8"/>
<line x1="1812.3" y1="1500.9" x2="1928.1" y2="1500.9" stroke-width="3.3" stroke-dasharray="18.5 7.5" stroke-dashoffset="8"/>
<line x1="1812.3" y1="1457.3" x2="1812.3" y2="1500.9" stroke-width="3.3" stroke-dasharray="18.5 7.5" stroke-dashoffset="8"/>
<circle cx="1836.9" cy="1480.5" r="7.7" fill="#000" stroke="none"/>
<circle cx="1902.5" cy="1480" r="7.6" fill="#000" stroke="none"/>
<line x1="1836.7" y1="1480.2" x2="1902.1" y2="1480.2" stroke-width="3.8"/>
<text x="1939.10" y="1491.9" font-size="27.8" textLength="60.22" lengthAdjust="spacingAndGlyphs"  stroke="#000" stroke-width="0.8">S202</text>
<text x="1909.80" y="1526.4" font-size="27.8" textLength="26.02" lengthAdjust="spacingAndGlyphs"  stroke="#000" stroke-width="0.8">20</text>
<text x="1910.20" y="1810.3" font-size="27.8" textLength="17.34" lengthAdjust="spacingAndGlyphs"  stroke="#000" stroke-width="0.8">B</text>
<circle cx="1904.7" cy="2055.2" r="8" fill="#000" stroke="none"/>
<text x="1921.30" y="2048.2" font-size="27.8" textLength="62.90" lengthAdjust="spacingAndGlyphs"  stroke="#000" stroke-width="0.8">G202</text>
<line x1="2109.6" y1="1187.8" x2="2110.5" y2="1374.2" stroke-width="4.3"/>
<line x1="2110.5" y1="1374.2" x2="2111.3" y2="1581.7" stroke-width="4.3"/>
<text x="2116.40" y="1279.2" font-size="27.8" textLength="14.46" lengthAdjust="spacingAndGlyphs"  stroke="#000" stroke-width="0.8">2</text>
<text x="2117.60" y="1327.6" font-size="27.8" textLength="43.96" lengthAdjust="spacingAndGlyphs"  stroke="#000" stroke-width="0.8">GW</text>
<text x="2137.40" y="1365.3" font-size="27.8" textLength="57.16" lengthAdjust="spacingAndGlyphs"  stroke="#000" stroke-width="0.8">(A/T)</text>
<circle cx="2109.9" cy="1374.4" r="7.8" fill="#000" stroke="none"/>
<polyline points="2109.7,1373.2 2225,1373 2225,1441.8" stroke-width="3.9" />
<text x="2231.10" y="1413.1" font-size="27.8" textLength="43.86" lengthAdjust="spacingAndGlyphs"  stroke="#000" stroke-width="0.8">GW</text>
<path d="M2203 1468.2 A22.4 22.4 0 0 0 2246 1468.2" stroke-width="4.3" />
<text x="2217.20" y="1475.4" font-size="27.8" textLength="14.46" lengthAdjust="spacingAndGlyphs"  stroke="#000" stroke-width="0.8">9</text>
<text x="2255.90" y="1483.2" font-size="27.8" textLength="62.85" lengthAdjust="spacingAndGlyphs"  stroke="#000" stroke-width="0.8">C202</text>
<line x1="2224.5" y1="1484.2" x2="2226" y2="1624.1" stroke-width="4.3"/>
<text x="2231.70" y="1558.1" font-size="27.8" textLength="43.07" lengthAdjust="spacingAndGlyphs"  stroke="#000" stroke-width="0.8">GW</text>
<circle cx="2226" cy="1624.1" r="7.5" fill="#000" stroke="none"/>
<polyline points="2226,1623.5 2327.3,1623.5 2326.4,1735" stroke-width="4.3" />
<polygon points="2327.8,1731.2 2314.8,1753.7 2340.8,1753.7" fill="#000" stroke="none" />
<line x1="2225.7" y1="1624" x2="2225.5" y2="1740" stroke-width="4.1"/>
<polygon points="2213.4,1737.1 2240,1737.1 2226.7,1760.6" fill="#000" stroke="none" />
<text x="2232.30" y="1689.1" font-size="27.8" textLength="43.66" lengthAdjust="spacingAndGlyphs"  stroke="#000" stroke-width="0.8">GW</text>
<text x="2336.00" y="1689.1" font-size="27.8" textLength="43.96" lengthAdjust="spacingAndGlyphs"  stroke="#000" stroke-width="0.8">GW</text>
<text x="2118.50" y="1485.6" font-size="27.8" textLength="43.96" lengthAdjust="spacingAndGlyphs"  stroke="#000" stroke-width="0.8">GW</text>
<path d="M2087.6 1598.3 A22.5 22.5 0 0 1 2131 1598.3" stroke-width="4.3" />
<text x="2095.60" y="1616.8" font-size="27.8" textLength="26.72" lengthAdjust="spacingAndGlyphs"  stroke="#000" stroke-width="0.8">14</text>
<text x="2141.80" y="1602.6" font-size="27.8" textLength="61.56" lengthAdjust="spacingAndGlyphs"  stroke="#000" stroke-width="0.8">C205</text>
<line x1="2111" y1="1631" x2="2111.4" y2="1845" stroke-width="4.8"/>
<text x="2119.00" y="1681.3" font-size="27.8" textLength="20.22" lengthAdjust="spacingAndGlyphs"  stroke="#000" stroke-width="0.8">G</text>
<circle cx="2112.1" cy="1714.6" r="7.5" fill="#000" stroke="none"/>
<polyline points="2112.1,1713.5 2007.7,1713.3 2008.5,1850" stroke-width="4.3" />
<polygon points="1995.6,1847 2022.2,1847 2008.9,1869.5" fill="#000" stroke="none" />
<polygon points="2112.6,1843.6 2099.3,1865 2125.9,1865" fill="#000" stroke="none" />
<text x="2015.30" y="1793" font-size="27.8" textLength="20.22" lengthAdjust="spacingAndGlyphs"  stroke="#000" stroke-width="0.8">G</text>
<text x="2119.00" y="1793" font-size="27.8" textLength="20.22" lengthAdjust="spacingAndGlyphs"  stroke="#000" stroke-width="0.8">G</text>
<rect x="1964.1" y="1873.7" width="6.9" height="7" fill="#000" stroke="none"/>
<rect x="2005" y="1873.7" width="6.9" height="7" fill="#000" stroke="none"/>
<text x="1972.40" y="1893.9" font-size="27.8" textLength="31.20" lengthAdjust="spacingAndGlyphs"  stroke="#000" stroke-width="0.8">K6</text>
<rect x="1951.2" y="1903.6" width="6.9" height="7" fill="#000" stroke="none"/>
<rect x="2025.2" y="1903.6" width="6.9" height="7" fill="#000" stroke="none"/>
<text x="1959.50" y="1923.8" font-size="27.8" textLength="64.28" lengthAdjust="spacingAndGlyphs"  stroke="#000" stroke-width="0.8">(B23)</text>
<rect x="1956.8" y="1933.8" width="6.9" height="7" fill="#000" stroke="none"/>
<rect x="2010.1" y="1933.8" width="6.9" height="7" fill="#000" stroke="none"/>
<text x="1965.10" y="1954" font-size="27.8" textLength="43.57" lengthAdjust="spacingAndGlyphs"  stroke="#000" stroke-width="0.8">[51]</text>
<rect x="2076" y="1873.7" width="6.9" height="7" fill="#000" stroke="none"/>
<rect x="2100.9" y="1873.7" width="6.9" height="7" fill="#000" stroke="none"/>
<text x="2084.30" y="1893.9" font-size="27.8" textLength="15.24" lengthAdjust="spacingAndGlyphs"  stroke="#000" stroke-width="0.8">B</text>
<line x1="2025.3" y1="1931.3" x2="2056.1" y2="2099.2" stroke-width="3.5"/>
<line x1="2114.9" y1="1884.4" x2="2168.5" y2="2110.5" stroke-width="3.8"/>
<line x1="2229.6" y1="1787.6" x2="2264.2" y2="1907.6" stroke-width="3.8"/>
<line x1="2329.2" y1="1774.5" x2="2434.7" y2="2107" stroke-width="3.8"/>
<rect x="2169.5" y="1766.3" width="6.9" height="7" fill="#000" stroke="none"/>
<rect x="2225.5" y="1766.3" width="6.9" height="7" fill="#000" stroke="none"/>
<text x="2177.80" y="1786.5" font-size="27.8" textLength="46.26" lengthAdjust="spacingAndGlyphs"  stroke="#000" stroke-width="0.8">B25</text>
<rect x="2289.5" y="1763.5" width="6.9" height="7" fill="#000" stroke="none"/>
<rect x="2314.7" y="1763.5" width="6.9" height="7" fill="#000" stroke="none"/>
<text x="2297.80" y="1783.7" font-size="27.8" textLength="15.46" lengthAdjust="spacingAndGlyphs"  stroke="#000" stroke-width="0.8">3</text>
<text x="2207.50" y="1940" font-size="32.6" textLength="89.87" lengthAdjust="spacingAndGlyphs"  stroke="#000" stroke-width="0.9">к блоку</text>
<text x="2207.50" y="1981.5" font-size="32.6" textLength="146.63" lengthAdjust="spacingAndGlyphs"  stroke="#000" stroke-width="0.9">управления</text>
<text x="2207.50" y="2020.9" font-size="32.6" textLength="70.49" lengthAdjust="spacingAndGlyphs"  stroke="#000" stroke-width="0.9">АКПП</text>
<text x="1790.60" y="2096.3" font-size="32.6" textLength="245.39" lengthAdjust="spacingAndGlyphs"  stroke="#000" stroke-width="0.9">к блоку управления</text>
<text x="1788.20" y="2134.3" font-size="32.6" textLength="334.34" lengthAdjust="spacingAndGlyphs"  stroke="#000" stroke-width="0.9">двигателем ECM (HV-240)</text>
<text x="2173.60" y="2096.3" font-size="32.6" textLength="134.21" lengthAdjust="spacingAndGlyphs"  stroke="#000" stroke-width="0.9">от датчика</text>
<text x="2173.60" y="2134.3" font-size="32.6" textLength="216.08" lengthAdjust="spacingAndGlyphs"  stroke="#000" stroke-width="0.9">скорости (МКПП)</text>
<text x="2453.10" y="2092.9" font-size="32.6" textLength="132.81" lengthAdjust="spacingAndGlyphs"  stroke="#000" stroke-width="0.9">от датчика</text>
<text x="2453.10" y="2132.3" font-size="32.6" textLength="207.77" lengthAdjust="spacingAndGlyphs"  stroke="#000" stroke-width="0.9">скорости (АКПП)</text>
<line x1="2465" y1="1170" x2="2466.5" y2="1373" stroke-width="4.8"/>
<text x="2475.30" y="1282.1" font-size="27.8" textLength="25.22" lengthAdjust="spacingAndGlyphs"  stroke="#000" stroke-width="0.8">17</text>
<text x="2473.80" y="1320.4" font-size="27.8" textLength="14.46" lengthAdjust="spacingAndGlyphs"  stroke="#000" stroke-width="0.8">L</text>
<text x="2266.90" y="1354.7" font-size="32.6" textLength="190.82" lengthAdjust="spacingAndGlyphs"  stroke="#000" stroke-width="0.9">(с тахометром)</text>
<circle cx="2465.6" cy="1373.2" r="8" fill="#000" stroke="none"/>
<polyline points="2465.6,1372.6 2365.3,1372.6 2366,1470" stroke-width="4.3" />
<polygon points="2366.8,1468.5 2354.2,1490.5 2379.4,1490.5" fill="#000" stroke="none" />
<text x="2373.80" y="1436.6" font-size="27.8" textLength="14.46" lengthAdjust="spacingAndGlyphs"  stroke="#000" stroke-width="0.8">L</text>
<text x="2476.00" y="1436.6" font-size="27.8" textLength="14.46" lengthAdjust="spacingAndGlyphs"  stroke="#000" stroke-width="0.8">L</text>
<line x1="2466.5" y1="1373" x2="2468.1" y2="1446.5" stroke-width="4.8"/>
<path d="M2446.7 1461.6 A22.7 22.7 0 0 1 2489.5 1461.6" stroke-width="4.3" />
<text x="2461.20" y="1480.1" font-size="27.8" textLength="14.46" lengthAdjust="spacingAndGlyphs"  stroke="#000" stroke-width="0.8">7</text>
<text x="2497.00" y="1472.2" font-size="27.8" textLength="61.56" lengthAdjust="spacingAndGlyphs"  stroke="#000" stroke-width="0.8">C205</text>
<line x1="2468.4" y1="1491.4" x2="2468.9" y2="1744" stroke-width="4.8"/>
<text x="2476.00" y="1616.8" font-size="27.8" textLength="14.46" lengthAdjust="spacingAndGlyphs"  stroke="#000" stroke-width="0.8">L</text>
<text x="2476.20" y="1735" font-size="27.8" textLength="14.46" lengthAdjust="spacingAndGlyphs"  stroke="#000" stroke-width="0.8">L</text>
<rect x="2317.2" y="1499.2" width="6.9" height="7" fill="#000" stroke="none"/>
<rect x="2355.9" y="1499.2" width="6.9" height="7" fill="#000" stroke="none"/>
<text x="2325.50" y="1519.4" font-size="27.8" textLength="29.02" lengthAdjust="spacingAndGlyphs"  stroke="#000" stroke-width="0.8">19</text>
<text x="2324.10" y="1545.2" font-size="32.6" textLength="106.87" lengthAdjust="spacingAndGlyphs"  stroke="#000" stroke-width="0.9">от часов</text>
<line x1="2378.5" y1="1744.4" x2="2561.4" y2="1744.4" stroke-width="3.8" stroke-dasharray="19 6.3" stroke-dashoffset="0"/>
<line x1="2561.4" y1="1744.4" x2="2561.4" y2="1845.7" stroke-width="3.8" stroke-dasharray="19 6.3" stroke-dashoffset="0"/>
<line x1="2378.5" y1="1845.7" x2="2561.4" y2="1845.7" stroke-width="3.8" stroke-dasharray="19 6.3" stroke-dashoffset="0"/>
<line x1="2378.5" y1="1744.4" x2="2378.5" y2="1845.7" stroke-width="3.8" stroke-dasharray="19 6.3" stroke-dashoffset="0"/>
<text x="2409.30" y="1805.7" font-size="32.6" textLength="132.73" lengthAdjust="spacingAndGlyphs"  stroke="#000" stroke-width="0.9">Генератор</text>
<line x1="2702" y1="1172.5" x2="2703.9" y2="1373" stroke-width="4.3"/>
<text x="2711.60" y="1280.7" font-size="27.8" textLength="25.02" lengthAdjust="spacingAndGlyphs"  stroke="#000" stroke-width="0.8">18</text>
<text x="2710.50" y="1328.6" font-size="27.8" textLength="43.44" lengthAdjust="spacingAndGlyphs"  stroke="#000" stroke-width="0.8">BrB</text>
<text x="2505.20" y="1354.7" font-size="32.6" textLength="188.62" lengthAdjust="spacingAndGlyphs"  stroke="#000" stroke-width="0.9">(с тахометром)</text>
<circle cx="2704.2" cy="1373.8" r="8" fill="#000" stroke="none"/>
<polyline points="2704.2,1373 2595.4,1373 2596.2,1470" stroke-width="4.3" />
<polygon points="2597,1469.4 2584.4,1491.4 2609.6,1491.4" fill="#000" stroke="none" />
<text x="2602.70" y="1436.6" font-size="27.8" textLength="41.54" lengthAdjust="spacingAndGlyphs"  stroke="#000" stroke-width="0.8">BrB</text>
<text x="2710.50" y="1437.1" font-size="27.8" textLength="43.44" lengthAdjust="spacingAndGlyphs"  stroke="#000" stroke-width="0.8">BrB</text>
<line x1="2703.9" y1="1373" x2="2704.8" y2="1497" stroke-width="4.3"/>
<path d="M2685.3 1511.8 A22.9 22.9 0 0 1 2728.1 1511.8" stroke-width="4.3" />
<text x="2695.50" y="1528.7" font-size="27.8" textLength="27.32" lengthAdjust="spacingAndGlyphs"  stroke="#000" stroke-width="0.8">16</text>
<text x="2736.60" y="1519.3" font-size="27.8" textLength="61.16" lengthAdjust="spacingAndGlyphs"  stroke="#000" stroke-width="0.8">C205</text>
<line x1="2705" y1="1543" x2="2705.5" y2="1748.8" stroke-width="4.3"/>
<text x="2712.50" y="1621.8" font-size="27.8" textLength="27.50" lengthAdjust="spacingAndGlyphs"  stroke="#000" stroke-width="0.8">Br</text>
<rect x="2553" y="1499.2" width="6.9" height="7" fill="#000" stroke="none"/>
<rect x="2590.1" y="1499.2" width="6.9" height="7" fill="#000" stroke="none"/>
<text x="2561.30" y="1519.4" font-size="27.8" textLength="27.39" lengthAdjust="spacingAndGlyphs"  stroke="#000" stroke-width="0.8">11</text>
<text x="2549.20" y="1544.3" font-size="32.6" textLength="106.87" lengthAdjust="spacingAndGlyphs"  stroke="#000" stroke-width="0.9">от часов</text>
<text x="2634.80" y="1739.5" font-size="27.8" textLength="60.98" lengthAdjust="spacingAndGlyphs"  stroke="#000" stroke-width="0.8">(B32)</text>
<text x="2716.90" y="1739.5" font-size="27.8" textLength="46.36" lengthAdjust="spacingAndGlyphs"  stroke="#000" stroke-width="0.8">K64</text>
<text x="2775.00" y="1739.5" font-size="27.8" textLength="42.37" lengthAdjust="spacingAndGlyphs"  stroke="#000" stroke-width="0.8">[39]</text>
<line x1="2645.5" y1="1749.5" x2="2772.5" y2="1749.5" stroke-width="3.8" stroke-dasharray="19 6.3" stroke-dashoffset="0"/>
<line x1="2772.5" y1="1749.5" x2="2772.5" y2="1834" stroke-width="3.8" stroke-dasharray="19 6.3" stroke-dashoffset="0"/>
<line x1="2645.5" y1="1834" x2="2772.5" y2="1834" stroke-width="3.8" stroke-dasharray="19 6.3" stroke-dashoffset="0"/>
<line x1="2645.5" y1="1749.5" x2="2645.5" y2="1834" stroke-width="3.8" stroke-dasharray="19 6.3" stroke-dashoffset="0"/>
<text x="2654.30" y="1781.3" font-size="32.6" textLength="59.61" lengthAdjust="spacingAndGlyphs"  stroke="#000" stroke-width="0.9">ECM</text>
<text x="2654.30" y="1822.2" font-size="32.6" textLength="109.74" lengthAdjust="spacingAndGlyphs"  stroke="#000" stroke-width="0.9">(HV-240)</text>
<text x="2607.10" y="1887.3" font-size="32.6" textLength="216.59" lengthAdjust="spacingAndGlyphs"  stroke="#000" stroke-width="0.9">Блок управления</text>
<text x="2605.00" y="1927.5" font-size="32.6" textLength="147.31" lengthAdjust="spacingAndGlyphs"  stroke="#000" stroke-width="0.9">двигателем</text>
<line x1="2902.3" y1="1172" x2="2903.6" y2="1394.2" stroke-width="4.3"/>
<text x="2908.30" y="1281.2" font-size="27.8" textLength="14.46" lengthAdjust="spacingAndGlyphs"  stroke="#000" stroke-width="0.8">5</text>
<text x="2912.90" y="1347.5" font-size="27.8" textLength="17.34" lengthAdjust="spacingAndGlyphs"  stroke="#000" stroke-width="0.8">V</text>
<path d="M2883.4 1425.4 A23.2 23.2 0 0 0 2926.6 1425.4" stroke-width="4.3" />
<text x="2890.50" y="1423.6" font-size="27.8" textLength="26.92" lengthAdjust="spacingAndGlyphs"  stroke="#000" stroke-width="0.8">16</text>
<text x="2931.30" y="1406.9" font-size="27.8" textLength="60.06" lengthAdjust="spacingAndGlyphs"  stroke="#000" stroke-width="0.8">C201</text>
<line x1="2904.3" y1="1440.2" x2="2904.8" y2="1584.4" stroke-width="4.3"/>
<text x="2913.00" y="1519.3" font-size="27.8" textLength="17.34" lengthAdjust="spacingAndGlyphs"  stroke="#000" stroke-width="0.8">V</text>
<path d="M2884.2 1600.7 A22.1 22.1 0 0 1 2926.8 1600.7" stroke-width="4.3" />
<text x="2892.20" y="1621.3" font-size="27.8" textLength="25.22" lengthAdjust="spacingAndGlyphs"  stroke="#000" stroke-width="0.8">12</text>
<text x="2932.00" y="1590.2" font-size="27.8" textLength="60.53" lengthAdjust="spacingAndGlyphs"  stroke="#000" stroke-width="0.8">C211</text>
<line x1="2905" y1="1634.6" x2="2905.9" y2="1795.1" stroke-width="4.8"/>
<text x="2913.30" y="1687.8" font-size="27.8" textLength="17.34" lengthAdjust="spacingAndGlyphs"  stroke="#000" stroke-width="0.8">V</text>
<text x="2911.30" y="1755.1" font-size="27.8" textLength="14.46" lengthAdjust="spacingAndGlyphs"  stroke="#000" stroke-width="0.8">5</text>
<line x1="2855.1" y1="1766.6" x2="3037.6" y2="1766.6" stroke-width="5.3" stroke-dasharray="18 7" stroke-dashoffset="0"/>
<line x1="3037.6" y1="1766.6" x2="3037.6" y2="1887" stroke-width="5.3" stroke-dasharray="18 7" stroke-dashoffset="0"/>
<line x1="2855.1" y1="1887" x2="3037.6" y2="1887" stroke-width="5.3" stroke-dasharray="18 7" stroke-dashoffset="0"/>
<line x1="2855.1" y1="1766.6" x2="2855.1" y2="1887" stroke-width="5.3" stroke-dasharray="18 7" stroke-dashoffset="0"/>
<rect x="2892.3" y="1795.1" width="26.6" height="63.6" stroke-width="4.6" />
<line x1="2868.7" y1="1857.1" x2="2936" y2="1803.6" stroke-width="5.8"/>
<polygon points="2949.6,1792.8 2924.5,1796.3 2938,1816.9" fill="#000" stroke="none" />
<line x1="2905.8" y1="1858.7" x2="2905.2" y2="2055.3" stroke-width="4.3"/>
<text x="2911.40" y="1913.2" font-size="27.8" textLength="14.46" lengthAdjust="spacingAndGlyphs"  stroke="#000" stroke-width="0.8">4</text>
<text x="2915.10" y="1982.7" font-size="27.8" textLength="17.34" lengthAdjust="spacingAndGlyphs"  stroke="#000" stroke-width="0.8">B</text>
<circle cx="2905.5" cy="2055.1" r="7.8" fill="#000" stroke="none"/>
<text x="2912.40" y="2049" font-size="27.8" textLength="61.90" lengthAdjust="spacingAndGlyphs"  stroke="#000" stroke-width="0.8">G301</text>
<text x="3059.60" y="1800.3" font-size="32.6" textLength="85.71" lengthAdjust="spacingAndGlyphs"  stroke="#000" stroke-width="0.9">Датчик</text>
<text x="3059.60" y="1838.7" font-size="32.6" textLength="87.03" lengthAdjust="spacingAndGlyphs"  stroke="#000" stroke-width="0.9">уровня</text>
<text x="3061.40" y="1877.8" font-size="32.6" textLength="99.91" lengthAdjust="spacingAndGlyphs"  stroke="#000" stroke-width="0.9">топлива</text>
<text x="1696.00" y="2062" font-size="27.8" textLength="25.02" lengthAdjust="spacingAndGlyphs"  stroke="#000" stroke-width="0.8">31</text>
<line x1="1730.4" y1="2053.8" x2="3018.4" y2="2055.1" stroke-width="3.3"/>
<text x="3020.40" y="2061.4" font-size="27.8" textLength="26.22" lengthAdjust="spacingAndGlyphs"  stroke="#000" stroke-width="0.8">31</text>
<rect x="3053.2" y="2042" width="64.7" height="28.9" fill="#000" stroke="none"/>
<rect x="3056.2" y="2045" width="57.9" height="21.9" fill="#fff" stroke="none"/>
<text x="3063.80" y="2063" font-size="21.4" textLength="45.54" lengthAdjust="spacingAndGlyphs" stroke="#000" stroke-width="1">GND</text>
<text x="2994.00" y="2134.5" font-size="39.8" textLength="157.96" lengthAdjust="spacingAndGlyphs"  stroke="#000" stroke-width="0.9">AV ED.010</text>
</g>
</svg>
</body></html>
